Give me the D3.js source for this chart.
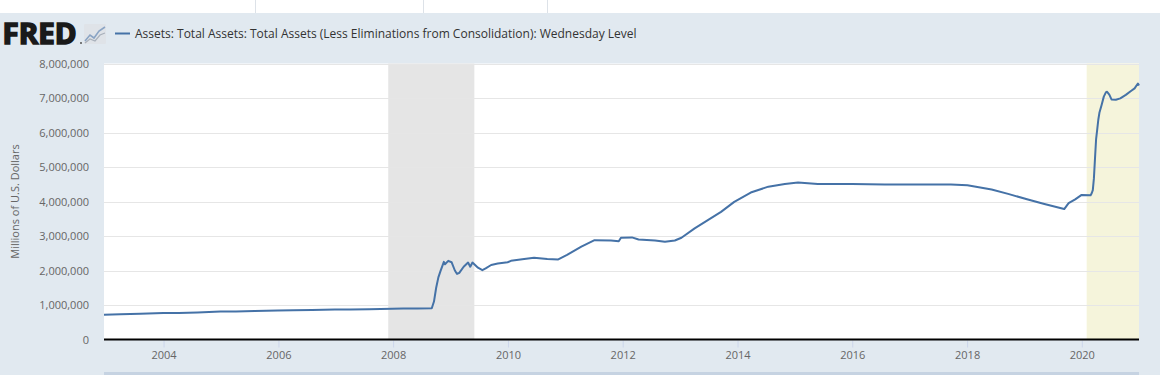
<!DOCTYPE html>
<html>
<head>
<meta charset="utf-8">
<script src="https://cdn.jsdelivr.net/npm/d3@7"></script>
<style>
  html, body { margin: 0; padding: 0; background: #ffffff; }
  svg { display: block; }
  text { font-family: "Open Sans", "DejaVu Sans", sans-serif; }
</style>
</head>
<body>
<svg id="chart" width="1160" height="375"></svg>
<script>
// ---- data (millions of U.S. dollars) ----
const seriesName = "Assets: Total Assets: Total Assets (Less Eliminations from Consolidation): Wednesday Level";
const yAxisTitle = "Millions of U.S. Dollars";
const dates = [
  "2002-12-18","2003-04-02","2003-08-06","2003-12-31","2004-04-07","2004-08-04","2004-12-29",
  "2005-04-06","2005-08-03","2005-12-28","2006-04-05","2006-08-02","2006-12-27","2007-04-04",
  "2007-08-01","2007-12-26","2008-03-05","2008-06-04","2008-09-03","2008-09-17","2008-10-01",
  "2008-10-15","2008-10-29","2008-11-19","2008-11-26","2008-12-17","2009-01-07","2009-01-28",
  "2009-02-11","2009-02-25","2009-03-25","2009-04-22","2009-05-06","2009-05-20","2009-06-24",
  "2009-07-22","2009-08-12","2009-09-16","2009-10-28","2009-12-30","2010-01-20","2010-04-14",
  "2010-06-16","2010-09-08","2010-11-17","2011-01-12","2011-04-13","2011-07-06","2011-10-19",
  "2011-12-07","2011-12-21","2012-02-29","2012-04-11","2012-07-25","2012-09-26","2012-11-28",
  "2013-01-09","2013-04-03","2013-06-26","2013-09-18","2013-12-11","2014-03-26","2014-07-16",
  "2014-10-29","2015-01-21","2015-05-27","2015-12-30","2016-07-27","2017-04-05","2017-09-20",
  "2018-01-03","2018-06-06","2018-09-19","2019-01-23","2019-05-08","2019-09-11","2019-10-09",
  "2019-11-20","2019-12-31","2020-02-26","2020-03-04","2020-03-11","2020-03-18","2020-03-25",
  "2020-04-01","2020-04-08","2020-04-15","2020-04-22","2020-05-06","2020-05-20","2020-06-03",
  "2020-06-10","2020-06-24","2020-07-08","2020-08-05","2020-09-02","2020-10-07","2020-11-11",
  "2020-12-02","2020-12-23","2020-12-30"
];
const values = [
  719000,730000,745000,770000,770000,785000,812000,
  815000,825000,840000,845000,855000,870000,868000,
  875000,890000,895000,900000,905000,1100000,1500000,
  1800000,1990000,2250000,2180000,2280000,2240000,2000000,
  1900000,1930000,2110000,2230000,2110000,2230000,2080000,
  2010000,2060000,2160000,2200000,2240000,2280000,2330000,
  2370000,2330000,2320000,2450000,2690000,2880000,2870000,
  2850000,2950000,2960000,2900000,2870000,2830000,2870000,
  2950000,3220000,3460000,3700000,3990000,4260000,4430000,
  4510000,4550000,4510000,4510000,4490000,4490000,4490000,
  4470000,4350000,4220000,4060000,3930000,3780000,3950000,
  4060000,4190000,4180000,4240000,4330000,4670000,5250000,
  5810000,6080000,6370000,6570000,6800000,7040000,7170000,
  7180000,7100000,6960000,6950000,6990000,7090000,7210000,
  7280000,7420000,7360000
];
const recessionStarts = ["2007-12-01","2020-02-01"];
const recessionEnds   = ["2009-06-01","2020-12-30"];
const yTicks = [0,1000000,2000000,3000000,4000000,5000000,6000000,7000000,8000000];
const xTickYears = [2004,2006,2008,2010,2012,2014,2016,2018,2020];

// ---- drawing ----
const parse = d3.utcParse("%Y-%m-%d");
const data = dates.map((d, i) => ({ date: parse(d), value: values[i] }));

const svg = d3.select("#chart");
const W = 1160, H = 375;
const plot = { left: 104, right: 1139, top: 63.5, bottom: 339.5 };

// page background
svg.append("rect").attr("x", 0).attr("y", 0).attr("width", W).attr("height", H).attr("fill", "#ffffff");
svg.append("rect").attr("x", 0).attr("y", 13).attr("width", W).attr("height", H - 13).attr("fill", "#e1e9f0");
// top tab separators
[255.5, 423.5, 547.5].forEach(x => {
  svg.append("line").attr("x1", x).attr("x2", x).attr("y1", 0).attr("y2", 13)
    .attr("stroke", "#dde2e8").attr("stroke-width", 1);
});

const x = d3.scaleUtc()
  .domain([parse("2002-12-18"), parse("2020-12-30")])
  .range([plot.left, plot.right]);
const y = d3.scaleLinear()
  .domain([0, 8000000])
  .range([plot.bottom, plot.top]);

// plot background
svg.append("rect").attr("x", plot.left).attr("y", plot.top)
  .attr("width", plot.right - plot.left).attr("height", plot.bottom - plot.top)
  .attr("fill", "#ffffff");

// recession shading
const recColors = ["#e5e5e5", "#f5f4db"];
recessionStarts.forEach((s, i) => {
  const x0 = x(parse(s)), x1 = Math.min(x(parse(recessionEnds[i])), plot.right);
  svg.append("rect").attr("x", x0).attr("y", plot.top)
    .attr("width", x1 - x0).attr("height", plot.bottom - plot.top)
    .attr("fill", recColors[i]);
});

// gridlines
svg.append("g").selectAll("line").data(yTicks.filter(v => v > 0)).join("line")
  .attr("x1", plot.left).attr("x2", plot.right)
  .attr("y1", d => Math.round(y(d)) + 0.5).attr("y2", d => Math.round(y(d)) + 0.5)
  .attr("stroke", "#e6e6e6").attr("stroke-width", 1);

// y axis labels
const yAxis = d3.axisLeft(y).tickValues(yTicks).tickSize(0).tickPadding(0)
  .tickFormat(d3.format(","));
const gy = svg.append("g").attr("transform", `translate(89,0)`).call(yAxis);
gy.select(".domain").remove();
gy.selectAll("text").attr("fill", "#666666").attr("font-size", "11px")
  .attr("font-family", "'Open Sans', sans-serif").attr("dy", "0.36em");

// y title
svg.append("text")
  .attr("transform", `translate(19,${(plot.top + plot.bottom) / 2}) rotate(-90)`)
  .attr("text-anchor", "middle")
  .attr("fill", "#666666").attr("font-size", "11px")
  .text(yAxisTitle);

// x axis
const xAxis = d3.axisBottom(x)
  .tickValues(xTickYears.map(yr => new Date(Date.UTC(yr, 0, 1))))
  .tickSize(7).tickPadding(4)
  .tickFormat(d3.utcFormat("%Y"));
const gx = svg.append("g").attr("transform", `translate(0,340.5)`).call(xAxis);
gx.select(".domain").remove();
gx.selectAll(".tick line").attr("stroke", "#ccd6eb");
gx.selectAll("text").attr("fill", "#666666").attr("font-size", "11px")
  .attr("font-family", "'Open Sans', sans-serif");

// baseline
svg.append("line").attr("x1", plot.left).attr("x2", plot.right)
  .attr("y1", plot.bottom).attr("y2", plot.bottom)
  .attr("stroke", "#000000").attr("stroke-width", 2);

// series line
const line = d3.line().x(d => x(d.date)).y(d => y(d.value)).curve(d3.curveLinear);
svg.append("path").datum(data)
  .attr("d", line).attr("fill", "none")
  .attr("stroke", "#4572a7").attr("stroke-width", 2)
  .attr("stroke-linejoin", "round");

// navigator strip at the bottom
svg.append("rect").attr("x", plot.left).attr("y", 372).attr("width", plot.right - plot.left)
  .attr("height", 3).attr("fill", "#c6d3e2");

// ---- header: FRED logo + legend ----
const logo = svg.append("g");
logo.append("text").attr("x", 2.5).attr("y", 44)
  .attr("font-family", "'DejaVu Sans', sans-serif").attr("font-weight", "bold")
  .attr("font-size", "28px").attr("fill", "#1a1a1a")
  .attr("stroke", "#1a1a1a").attr("stroke-width", 1.6).attr("stroke-linejoin", "miter")
  .attr("textLength", 74).attr("lengthAdjust", "spacingAndGlyphs")
  .text("FRED");
logo.append("circle").attr("cx", 81).attr("cy", 43).attr("r", 1).attr("fill", "#555");
// little chart icon
const ic = logo.append("g").attr("transform", "translate(84,24)");
ic.append("rect").attr("width", 22).attr("height", 20).attr("fill", "#dfe3e8").attr("rx", 1);
ic.append("polyline").attr("points", "1,17 6,11 10,14 15,7 21,3")
  .attr("fill", "none").attr("stroke", "#8aa4c4").attr("stroke-width", 1.6);
ic.append("polyline").attr("points", "1,19 6,15 11,17 16,11 21,9")
  .attr("fill", "none").attr("stroke", "#a9b1bb").attr("stroke-width", 1.2);

svg.append("line").attr("x1", 115).attr("x2", 130).attr("y1", 33.5).attr("y2", 33.5)
  .attr("stroke", "#4572a7").attr("stroke-width", 2);
const leg = svg.append("text").attr("x", 135).attr("y", 38)
  .attr("fill", "#333333").attr("font-size", "12px")
  .text(seriesName);
const targetW = 502;
const w = leg.node().getComputedTextLength();
if (w > 0) leg.attr("font-size", (12 * targetW / w).toFixed(2) + "px");
</script>
</body>
</html>
